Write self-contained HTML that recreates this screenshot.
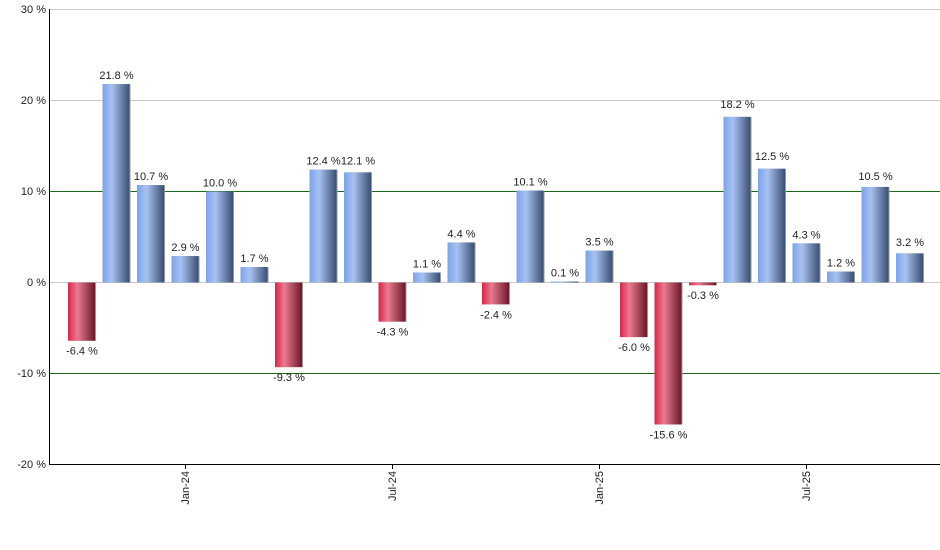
<!DOCTYPE html>
<html><head><style>body{margin:0;background:#fff}svg{display:block;font-family:"Liberation Sans",sans-serif}</style></head><body>
<svg width="940" height="550" xmlns="http://www.w3.org/2000/svg">
<defs>
<linearGradient id="b" x1="0" x2="1"><stop offset="0" stop-color="#7aa3ec"/><stop offset="0.35" stop-color="#a8c2f0"/><stop offset="1" stop-color="#3a4f74"/></linearGradient>
<linearGradient id="r" x1="0" x2="1"><stop offset="0" stop-color="#dc2448"/><stop offset="0.35" stop-color="#e87b90"/><stop offset="1" stop-color="#6c1828"/></linearGradient>
</defs>
<g stroke-width="1">
<line x1="49" x2="940" y1="9.5" y2="9.5" stroke="#c8c8c8"/>
<line x1="49" x2="940" y1="100.5" y2="100.5" stroke="#c8c8c8"/>
<line x1="49" x2="940" y1="191.5" y2="191.5" stroke="#1a6b1a"/>
<line x1="49" x2="940" y1="282.5" y2="282.5" stroke="#c8c8c8"/>
<line x1="49" x2="940" y1="373.5" y2="373.5" stroke="#1a6b1a"/>
</g>
<g font-size="11" fill="#222" text-anchor="end">
<text x="46" y="13">30 %</text><text x="46" y="104">20 %</text><text x="46" y="195">10 %</text><text x="46" y="286">0 %</text><text x="46" y="377">-10 %</text><text x="46" y="468">-20 %</text>
</g>
<g fill="#999">
<rect x="69" y="282.5" width="27" height="58.24"/>
<rect x="103.5" y="84.12" width="27" height="198.38"/>
<rect x="138" y="185.13" width="27" height="97.37"/>
<rect x="172.5" y="256.11" width="27" height="26.39"/>
<rect x="207" y="191.5" width="27" height="91"/>
<rect x="241.5" y="267.03" width="27" height="15.47"/>
<rect x="276" y="282.5" width="27" height="84.63"/>
<rect x="310.5" y="169.66" width="27" height="112.84"/>
<rect x="345" y="172.39" width="27" height="110.11"/>
<rect x="379.5" y="282.5" width="27" height="39.13"/>
<rect x="414" y="272.49" width="27" height="10.01"/>
<rect x="448.5" y="242.46" width="27" height="40.04"/>
<rect x="483" y="282.5" width="27" height="21.84"/>
<rect x="517.5" y="190.59" width="27" height="91.91"/>
<rect x="552" y="281.5" width="27" height="1"/>
<rect x="586.5" y="250.65" width="27" height="31.85"/>
<rect x="621" y="282.5" width="27" height="54.6"/>
<rect x="655.5" y="282.5" width="27" height="141.96"/>
<rect x="690" y="282.5" width="27" height="2.73"/>
<rect x="724.5" y="116.88" width="27" height="165.62"/>
<rect x="759" y="168.75" width="27" height="113.75"/>
<rect x="793.5" y="243.37" width="27" height="39.13"/>
<rect x="828" y="271.58" width="27" height="10.92"/>
<rect x="862.5" y="186.95" width="27" height="95.55"/>
<rect x="897" y="253.38" width="27" height="29.12"/>
</g>
<g>
<rect fill="url(#r)" x="68" y="282.5" width="27" height="58.24"/>
<rect fill="url(#b)" x="102.5" y="84.12" width="27" height="198.38"/>
<rect fill="url(#b)" x="137" y="185.13" width="27" height="97.37"/>
<rect fill="url(#b)" x="171.5" y="256.11" width="27" height="26.39"/>
<rect fill="url(#b)" x="206" y="191.5" width="27" height="91"/>
<rect fill="url(#b)" x="240.5" y="267.03" width="27" height="15.47"/>
<rect fill="url(#r)" x="275" y="282.5" width="27" height="84.63"/>
<rect fill="url(#b)" x="309.5" y="169.66" width="27" height="112.84"/>
<rect fill="url(#b)" x="344" y="172.39" width="27" height="110.11"/>
<rect fill="url(#r)" x="378.5" y="282.5" width="27" height="39.13"/>
<rect fill="url(#b)" x="413" y="272.49" width="27" height="10.01"/>
<rect fill="url(#b)" x="447.5" y="242.46" width="27" height="40.04"/>
<rect fill="url(#r)" x="482" y="282.5" width="27" height="21.84"/>
<rect fill="url(#b)" x="516.5" y="190.59" width="27" height="91.91"/>
<rect fill="url(#b)" x="551" y="281.5" width="27" height="1"/>
<rect fill="url(#b)" x="585.5" y="250.65" width="27" height="31.85"/>
<rect fill="url(#r)" x="620" y="282.5" width="27" height="54.6"/>
<rect fill="url(#r)" x="654.5" y="282.5" width="27" height="141.96"/>
<rect fill="url(#r)" x="689" y="282.5" width="27" height="2.73"/>
<rect fill="url(#b)" x="723.5" y="116.88" width="27" height="165.62"/>
<rect fill="url(#b)" x="758" y="168.75" width="27" height="113.75"/>
<rect fill="url(#b)" x="792.5" y="243.37" width="27" height="39.13"/>
<rect fill="url(#b)" x="827" y="271.58" width="27" height="10.92"/>
<rect fill="url(#b)" x="861.5" y="186.95" width="27" height="95.55"/>
<rect fill="url(#b)" x="896" y="253.38" width="27" height="29.12"/>
</g>
<g font-size="11" fill="#222" text-anchor="middle">
<text x="82" y="354.7">-6.4 %</text>
<text x="116.5" y="79.1">21.8 %</text>
<text x="151" y="180.1">10.7 %</text>
<text x="185.5" y="251.1">2.9 %</text>
<text x="220" y="186.5">10.0 %</text>
<text x="254.5" y="262">1.7 %</text>
<text x="289" y="381.1">-9.3 %</text>
<text x="323.5" y="164.7">12.4 %</text>
<text x="358" y="164.7">12.1 %</text>
<text x="392.5" y="335.6">-4.3 %</text>
<text x="427" y="267.5">1.1 %</text>
<text x="461.5" y="237.5">4.4 %</text>
<text x="496" y="318.3">-2.4 %</text>
<text x="530.5" y="185.6">10.1 %</text>
<text x="565" y="276.5">0.1 %</text>
<text x="599.5" y="245.7">3.5 %</text>
<text x="634" y="351.1">-6.0 %</text>
<text x="668.5" y="438.5">-15.6 %</text>
<text x="703" y="299.2">-0.3 %</text>
<text x="737.5" y="108">18.2 %</text>
<text x="772" y="160">12.5 %</text>
<text x="806.5" y="238.4">4.3 %</text>
<text x="841" y="266.6">1.2 %</text>
<text x="875.5" y="180">10.5 %</text>
<text x="910" y="246">3.2 %</text>
</g>
<line x1="49.5" x2="49.5" y1="9" y2="465" stroke="#000"/>
<line x1="49" x2="940" y1="464.5" y2="464.5" stroke="#000"/>
<g stroke="#000"><line x1="185.5" x2="185.5" y1="464" y2="469"/><line x1="392.5" x2="392.5" y1="464" y2="469"/><line x1="599.5" x2="599.5" y1="464" y2="469"/><line x1="806.5" x2="806.5" y1="464" y2="469"/></g>
<g font-size="11" fill="#222" text-anchor="end">
<text transform="translate(189,471) rotate(-90)">Jan-24</text>
<text transform="translate(396,471) rotate(-90)">Jul-24</text>
<text transform="translate(603,471) rotate(-90)">Jan-25</text>
<text transform="translate(810,471) rotate(-90)">Jul-25</text>
</g>
</svg>
</body></html>
